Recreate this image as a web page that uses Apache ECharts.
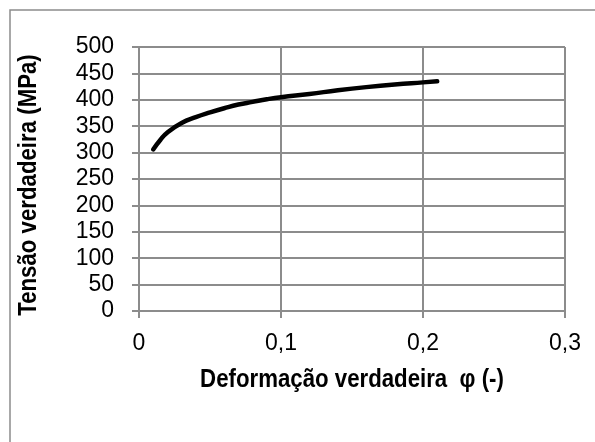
<!DOCTYPE html>
<html>
<head>
<meta charset="utf-8">
<script src="https://cdn.jsdelivr.net/npm/echarts@6/dist/echarts.min.js"></script>
<style>
html,body{margin:0;padding:0;background:#fff;}
#c{width:595px;height:442px;}
</style>
</head>
<body>
<div id="c"></div>
<script>
var strain = [0.01, 0.015, 0.02, 0.03, 0.04, 0.05, 0.06, 0.07, 0.08, 0.09, 0.10, 0.12, 0.14, 0.16, 0.18, 0.20, 0.21];
var stress = [306, 324, 338, 356, 367, 376, 384, 391, 396, 401, 405, 411, 418, 424, 429, 433, 435];
var xTitle = 'Deformação verdadeira  φ (-)';
var yTitle = 'Tensão verdadeira (MPa)';

var data = strain.map(function (s, i) { return [s, stress[i]]; });
var FONT = '"Liberation Sans", Arial, sans-serif';
var GRID = '#8c8c8c';
var TITLE_FONT = 'bold 26px "Liberation Sans", Arial, sans-serif';

var chart = echarts.init(document.getElementById('c'), null, {renderer: 'canvas'});
chart.setOption({
  animation: false,
  backgroundColor: '#ffffff',
  graphic: [{
    type: 'rect',
    shape: {x: 10, y: 10, width: 600, height: 460},
    style: {fill: 'none', stroke: GRID, lineWidth: 1.5},
    silent: true
  }, {
    type: 'text', x: 352, y: 380, scaleX: 0.855,
    style: {text: xTitle, font: TITLE_FONT, fill: '#000', align: 'center', verticalAlign: 'middle'},
    silent: true
  }, {
    type: 'text', x: 29, y: 185, rotation: Math.PI / 2, scaleX: 0.855,
    style: {text: yTitle, font: TITLE_FONT, fill: '#000', align: 'center', verticalAlign: 'middle'},
    silent: true
  }],
  grid: {left: 139, top: 47, right: 30, bottom: 131, containLabel: false},
  xAxis: {
    type: 'value', min: 0, max: 0.3, interval: 0.1,
    axisLine: {show: true, lineStyle: {color: GRID, width: 2}},
    axisTick: {show: true, inside: false, length: 7, lineStyle: {color: GRID, width: 2}},
    splitLine: {show: true, lineStyle: {color: GRID, width: 2}},
    axisLabel: {margin: 21, fontFamily: FONT, fontSize: 23, color: '#000',
      formatter: function (v) { return String(Math.round(v * 10) / 10).replace('.', ','); }}
  },
  yAxis: {
    type: 'value', min: 0, max: 500, interval: 50,
    axisLine: {show: true, lineStyle: {color: GRID, width: 2}},
    axisTick: {show: true, inside: false, length: 7, lineStyle: {color: GRID, width: 2}},
    splitLine: {show: true, lineStyle: {color: GRID, width: 2}},
    axisLabel: {margin: 25, fontFamily: FONT, fontSize: 23, color: '#000'}
  },
  series: [{
    type: 'line', data: data, smooth: true, showSymbol: false,
    lineStyle: {color: '#000', width: 4.5, cap: 'round'}
  }]
});
</script>
</body>
</html>
